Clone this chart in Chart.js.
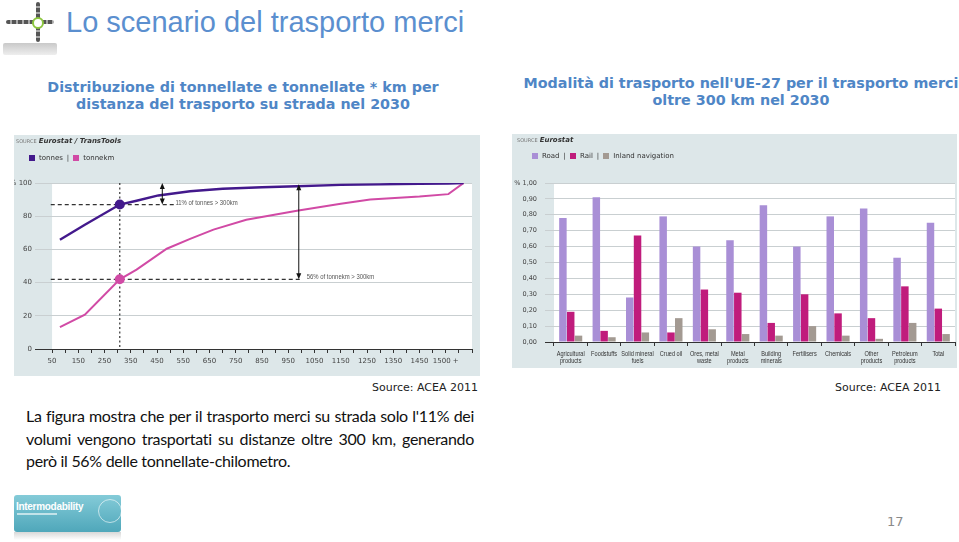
<!DOCTYPE html>
<html><head><meta charset="utf-8">
<script src="https://cdn.jsdelivr.net/npm/chart.js@4/dist/chart.umd.min.js"></script>
<style>
html,body{margin:0;padding:0;background:#fff;width:959px;height:542px;overflow:hidden;position:relative;font-family:"DejaVu Sans",sans-serif}
.abs{position:absolute}
#title{left:66px;top:4px;font:29px "Liberation Sans",Arial,sans-serif;color:#5b8fcf;white-space:nowrap;line-height:36px}
.sub{font:bold 14.3px "DejaVu Sans",Verdana,sans-serif;color:#4f86c6;text-align:center;line-height:17px;white-space:nowrap}
#sub1{left:13px;top:79px;width:460px}
#sub2{left:511px;top:75px;width:460px}
.src{font:11px "DejaVu Sans",sans-serif;color:#222;line-height:13px;white-space:nowrap;text-align:right}
.para{left:26px;width:448px;font:16px Lato,"Open Sans",sans-serif;letter-spacing:-0.3px;color:#111;line-height:22px;white-space:nowrap}
.j{text-align:justify;text-align-last:justify}
.lg{font:7px "DejaVu Sans",sans-serif;color:#333;white-space:nowrap;display:flex;align-items:center;line-height:8px}
.sq{display:inline-block;width:6px;height:6px;margin-right:4px}
.sep{margin:0 4px}
.srcs{font:5px "DejaVu Sans",sans-serif;color:#777;white-space:nowrap;line-height:8px}
.srcs b{font:italic bold 7px "DejaVu Sans",sans-serif;color:#333;margin-left:2px}
canvas{position:absolute}
</style></head>
<body>
<!-- top-left chain logo -->
<div class="abs" style="left:3px;top:43px;width:54px;height:12px;background:linear-gradient(#c9c9c9,#eeeeee);border-radius:2px"></div>
<div class="abs" style="left:6px;top:20px;width:48px;height:4px;background:repeating-linear-gradient(90deg,#555 0 4px,#aaa 4px 6px);border-radius:2px"></div>
<div class="abs" style="left:36px;top:2px;width:4px;height:40px;background:repeating-linear-gradient(180deg,#555 0 4px,#aaa 4px 6px);border-radius:2px"></div>
<div class="abs" style="left:32px;top:17px;width:8px;height:8px;border:2px solid #8cc63f;border-radius:50%;background:#fff"></div>

<div id="title" class="abs">Lo scenario del trasporto merci</div>
<div id="sub1" class="abs sub">Distribuzione di tonnellate e tonnellate * km per<br>distanza del trasporto su strada nel 2030</div>
<div id="sub2" class="abs sub">Modalità di trasporto nell'UE-27 per il trasporto merci<br>oltre 300 km nel 2030</div>

<canvas id="c1" width="480" height="241" style="left:0px;top:135px"></canvas>
<canvas id="c2" width="445" height="234" style="left:512px;top:134px"></canvas>

<div class="abs srcs" style="left:16px;top:137px">SOURCE<b>Eurostat / TransTools</b></div>
<div class="abs lg" style="left:29px;top:154px"><span class="sq" id="sqT"></span><span>tonnes</span><span class="sep">|</span><span class="sq" id="sqK"></span><span>tonnekm</span></div>

<div class="abs srcs" style="left:517px;top:136px">SOURCE<b>Eurostat</b></div>
<div class="abs lg" style="left:532px;top:152px"><span class="sq" id="sqR"></span><span>Road</span><span class="sep">|</span><span class="sq" id="sqL"></span><span>Rail</span><span class="sep">|</span><span class="sq" id="sqI"></span><span>Inland navigation</span></div>

<div class="abs src" style="left:278px;top:381px;width:200px">Source: ACEA 2011</div>
<div class="abs src" style="left:741px;top:381px;width:200px">Source: ACEA 2011</div>

<div class="abs para j" style="top:405px">La figura mostra che per il trasporto merci su strada solo l'11% dei</div>
<div class="abs para j" style="top:428px">volumi vengono trasportati su distanze oltre 300 km, generando</div>
<div class="abs para" style="top:450px">però il 56% delle tonnellate-chilometro.</div>

<!-- bottom logo -->
<div class="abs" style="left:14px;top:495px;width:107px;height:37px;background:linear-gradient(#84cbd8,#4fa7ba);border-radius:3px;overflow:hidden">
  <div class="abs" style="left:2px;top:6px;font:bold 10px 'Liberation Sans',Arial,sans-serif;color:#fff;letter-spacing:-0.3px">Intermodability</div>
  <div class="abs" style="left:3px;top:18px;width:40px;height:2px;background:rgba(255,255,255,.6)"></div>
  <div class="abs" style="left:84px;top:4px;width:22px;height:22px;border:1px solid rgba(255,255,255,.6);border-radius:50%"></div>
</div>
<div class="abs" style="left:14px;top:532px;width:107px;height:8px;background:linear-gradient(#d8d8d8,#fff)"></div>

<div class="abs" style="left:887px;top:514px;font:13px 'DejaVu Sans',sans-serif;color:#8a8a8a">17</div>

<script>
// ---------- Left chart data ----------
const kmTonnes   = [80, 175, 308, 372, 455, 576, 700, 850, 983, 1150, 1300, 1450, 1560, 1618];
const pctTonnes  = [65.8, 74.9, 87, 89.3, 92.5, 95, 96.5, 97.4, 98, 98.9, 99.2, 99.5, 99.7, 100];
const kmTonnekm  = [80, 175, 308, 372, 487, 576, 665, 790, 983, 1150, 1262, 1450, 1560, 1618];
const pctTonnekm = [13.2, 20.7, 42, 47.8, 60.4, 66.3, 71.9, 77.9, 83.3, 87.5, 90, 91.8, 93.3, 100];
const markerIndex = 2;          // the 300 km marker point
const arrowKmTonnes = 470;      // position of the 11% arrow
const arrowKmTonnekm = 990;     // position of the 56% arrow
const noteTonnes = "11% of tonnes > 300km";
const noteTonnekm = "56% of tonnekm > 300km";
const yTicksLeft = [0, 20, 40, 60, 80, 100];

// ---------- Right chart data ----------
const categories = [["Agricultural","products"],["Foodstuffs"],["Solid mineral","fuels"],["Crued oil"],["Ores, metal","waste"],["Metal","products"],["Building","minerals"],["Fertilisers"],["Chemicals"],["Other","products"],["Petroleum","products"],["Total"]];
const road   = [0.78, 0.91, 0.28, 0.79, 0.60, 0.64, 0.86, 0.60, 0.79, 0.84, 0.53, 0.75];
const rail   = [0.19, 0.07, 0.67, 0.06, 0.33, 0.31, 0.12, 0.30, 0.18, 0.15, 0.35, 0.21];
const inland = [0.04, 0.03, 0.06, 0.15, 0.08, 0.05, 0.04, 0.10, 0.04, 0.02, 0.12, 0.05];

const C_TON = '#43198c', C_TKM = '#d14aa5';
const C_ROAD = '#a98fd6', C_RAIL = '#c01c7c', C_INL = '#a39a92';
const PANEL = '#dde7e9', GRID = '#c9cfd1', AXIS = '#333';
document.getElementById('sqT').style.background = C_TON;
document.getElementById('sqK').style.background = C_TKM;
document.getElementById('sqR').style.background = C_ROAD;
document.getElementById('sqL').style.background = C_RAIL;
document.getElementById('sqI').style.background = C_INL;

const tickFont = '"DejaVu Sans",sans-serif';
const LEFT_PANEL_X = 14;

function arrow(ctx, x, yTop, yBot){
  ctx.beginPath(); ctx.moveTo(x, yTop + 4); ctx.lineTo(x, yBot - 4); ctx.stroke();
  ctx.beginPath(); ctx.moveTo(x, yTop); ctx.lineTo(x - 2.5, yTop + 6); ctx.lineTo(x + 2.5, yTop + 6); ctx.closePath(); ctx.fill();
  ctx.beginPath(); ctx.moveTo(x, yBot); ctx.lineTo(x - 2.5, yBot - 6); ctx.lineTo(x + 2.5, yBot - 6); ctx.closePath(); ctx.fill();
}
function narrowText(ctx, text, x, y, sx){
  ctx.save(); ctx.translate(x, y); ctx.scale(sx, 1); ctx.fillText(text, 0, 0); ctx.restore();
}

const leftBg = {
  id: 'leftBg',
  beforeDraw(chart){
    const {ctx, chartArea: a, scales: {x}} = chart;
    ctx.save();
    ctx.fillStyle = PANEL; ctx.fillRect(LEFT_PANEL_X, 0, chart.width - LEFT_PANEL_X, chart.height);
    ctx.fillStyle = '#fff';
    const x0 = x.getPixelForValue(50);
    ctx.fillRect(x0, a.top, a.right - x0, a.bottom - a.top);
    ctx.restore();
  },
  afterDatasetsDraw(chart){
    const {ctx, scales: {x, y}} = chart;
    const mk = kmTonnes[markerIndex];
    const mx = x.getPixelForValue(mk);
    const yT = y.getPixelForValue(pctTonnes[markerIndex]);
    const yK = y.getPixelForValue(pctTonnekm[markerIndex]);
    ctx.save();
    ctx.strokeStyle = '#333'; ctx.lineWidth = 1.2;
    ctx.setLineDash([2, 2.5]);
    ctx.beginPath(); ctx.moveTo(mx, y.getPixelForValue(100)); ctx.lineTo(mx, y.getPixelForValue(0)); ctx.stroke();
    ctx.setLineDash([4, 3]);
    const xs = x.getPixelForValue(45);
    ctx.beginPath(); ctx.moveTo(xs, yT); ctx.lineTo(x.getPixelForValue(arrowKmTonnes + 45), yT); ctx.stroke();
    ctx.beginPath(); ctx.moveTo(xs, yK); ctx.lineTo(x.getPixelForValue(arrowKmTonnekm + 15), yK); ctx.stroke();
    ctx.setLineDash([]);
    ctx.fillStyle = '#111'; ctx.strokeStyle = '#111'; ctx.lineWidth = 1;
    arrow(ctx, x.getPixelForValue(arrowKmTonnes), y.getPixelForValue(100), yT);
    arrow(ctx, x.getPixelForValue(arrowKmTonnekm), y.getPixelForValue(99.3), yK);
    ctx.fillStyle = C_TON; ctx.beginPath(); ctx.arc(mx, yT, 5, 0, Math.PI*2); ctx.fill();
    ctx.fillStyle = C_TKM; ctx.beginPath(); ctx.arc(mx, yK, 5, 0, Math.PI*2); ctx.fill();
    ctx.fillStyle = '#555'; ctx.font = '7px "Liberation Sans",Arial,sans-serif'; ctx.textBaseline = 'middle';
    narrowText(ctx, noteTonnes, x.getPixelForValue(arrowKmTonnes + 50), yT - 1.5, 0.85);
    narrowText(ctx, noteTonnekm, x.getPixelForValue(arrowKmTonnekm + 30), yK - 2.5, 0.85);
    ctx.restore();
  }
};

new Chart(document.getElementById('c1'), {
  type: 'line',
  data: {
    datasets: [
      {label: 'tonnes', data: kmTonnes.map((k, i) => ({x: k, y: pctTonnes[i]})), borderColor: C_TON, borderWidth: 2.4, pointRadius: 0, tension: 0, fill: false},
      {label: 'tonnekm', data: kmTonnekm.map((k, i) => ({x: k, y: pctTonnekm[i]})), borderColor: C_TKM, borderWidth: 2, pointRadius: 0, tension: 0, fill: false}
    ]
  },
  options: {
    responsive: false, animation: false, devicePixelRatio: 1,
    layout: {padding: {left: 14, top: 48, right: 8, bottom: 7}},
    plugins: {legend: {display: false}, tooltip: {enabled: false}, title: {display: false}},
    scales: {
      x: {
        type: 'linear', min: -15, max: 1650,
        afterBuildTicks: s => { s.ticks = s.ticks.filter(t => t.value >= 0 && t.value % 50 === 0); },
        afterFit: s => { s.height = 20; },
        ticks: {stepSize: 50, autoSkip: false, maxRotation: 0, padding: 4, color: '#444',
          font: {size: 7, family: tickFont},
          callback: v => (v >= 50 && v <= 1550 && (v - 50) % 100 === 0) ? (v === 1550 ? '1500 +' : String(v)) : ''},
        grid: {drawOnChartArea: false, drawTicks: true, tickLength: 4, color: AXIS},
        border: {display: true, color: AXIS, width: 1}
      },
      y: {
        min: 0, max: 100,
        afterBuildTicks: s => { s.ticks = yTicksLeft.map(v => ({value: v})); },
        afterFit: s => { s.width = 21; },
        ticks: {padding: 3, color: '#444', font: {size: 7, family: tickFont},
          callback: v => v === 100 ? '% 100' : String(v)},
        grid: {drawTicks: false, color: c => c.tick && c.tick.value === 0 ? AXIS : GRID},
        border: {display: false}
      }
    }
  },
  plugins: [leftBg]
});

const rightBg = {
  id: 'rightBg',
  beforeDraw(chart){
    const {ctx, chartArea: a} = chart;
    ctx.save();
    ctx.fillStyle = PANEL; ctx.fillRect(0, 0, chart.width, chart.height);
    ctx.fillStyle = '#fff'; ctx.fillRect(a.left, a.top, a.right - a.left, a.bottom - a.top);
    ctx.restore();
  },
  afterDraw(chart){
    const {ctx, scales: {x}} = chart;
    ctx.save();
    ctx.fillStyle = '#333'; ctx.font = '7px "Liberation Sans",Arial,sans-serif';
    ctx.textAlign = 'center'; ctx.textBaseline = 'middle';
    categories.forEach((lines, i) => {
      const px = x.getPixelForTick(i);
      lines.forEach((t, j) => narrowText(ctx, t, px, x.top + 12 + j * 7, 0.8));
    });
    ctx.restore();
  }
};

new Chart(document.getElementById('c2'), {
  type: 'bar',
  data: {
    labels: categories,
    datasets: [
      {label: 'Road', data: road, backgroundColor: C_ROAD},
      {label: 'Rail', data: rail, backgroundColor: C_RAIL},
      {label: 'Inland navigation', data: inland, backgroundColor: C_INL}
    ]
  },
  options: {
    responsive: false, animation: false, devicePixelRatio: 1,
    layout: {padding: {left: 0, top: 49, right: 2, bottom: 0}},
    datasets: {bar: {categoryPercentage: 0.7, barPercentage: 0.96}},
    plugins: {legend: {display: false}, tooltip: {enabled: false}, title: {display: false}},
    scales: {
      x: {
        afterFit: s => { s.height = 26; },
        ticks: {display: false, autoSkip: false, maxRotation: 0},
        grid: {drawOnChartArea: false, drawTicks: true, tickLength: 4, color: AXIS, offset: true},
        border: {display: true, color: AXIS, width: 1}
      },
      y: {
        min: 0, max: 1,
        afterFit: s => { s.width = 42; },
        ticks: {stepSize: 0.1, padding: 8, color: '#444', font: {size: 6.5, family: tickFont},
          callback: v => (Math.abs(v - 1) < 1e-9 ? '% ' : '') + v.toFixed(2).replace('.', ',')},
        grid: {drawTicks: true, tickLength: 9, color: c => c.tick && Math.abs(c.tick.value) < 1e-9 ? AXIS : GRID},
        border: {display: false}
      }
    }
  },
  plugins: [rightBg]
});
</script>
</body></html>
